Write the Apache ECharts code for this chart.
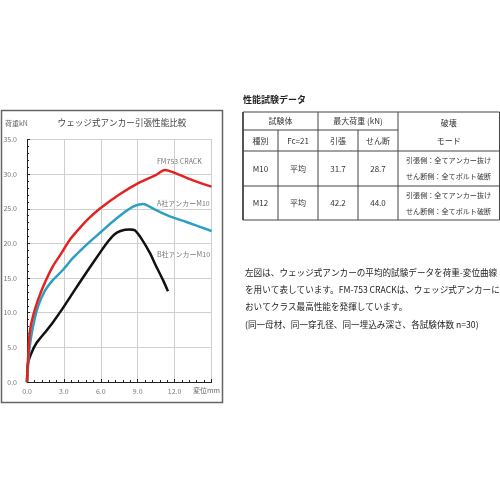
<!DOCTYPE html>
<html>
<head>
<meta charset="utf-8">
<script src="https://cdn.jsdelivr.net/npm/echarts@6/dist/echarts.min.js"></script>
<style>
  html, body { margin: 0; padding: 0; background: #fff; }
  #chart-container { width: 500px; height: 500px; }
</style>
</head>
<body>
<div id="chart-container"></div>
<script>
// load-displacement curves (x: mm, y: kN)
var fmX = [0, 0.08, 0.22, 0.49, 0.9, 1.44, 2.1, 2.8, 3.47, 4.28, 4.96, 5.91, 7.54, 9.16, 10.5, 11.2, 11.5, 12.4, 13.5, 15];
var fmY = [0, 3.2, 7.1, 9.5, 11.9, 14.3, 16.7, 18.6, 20.5, 22.2, 23.5, 25.0, 27.1, 28.8, 29.9, 30.6, 30.5, 29.9, 29.1, 28.2];
var aX = [0, 0.08, 0.22, 0.49, 0.9, 1.44, 2.1, 2.93, 3.74, 4.83, 5.91, 7.27, 8.62, 9.43, 10.5, 11.6, 12.96, 15];
var aY = [0, 2.2, 5.1, 8.0, 10.9, 13.1, 14.7, 16.2, 17.9, 19.8, 21.5, 23.6, 25.3, 25.7, 24.8, 23.9, 23.1, 21.8];
var bX = [0, 0.08, 0.36, 0.76, 1.44, 2.1, 2.93, 3.74, 4.83, 5.91, 6.6, 7.1, 7.6, 8.35, 8.76, 9.3, 10.0, 10.5, 11.06, 11.46];
var bY = [0, 2.7, 4.2, 5.6, 7.1, 8.6, 10.7, 12.9, 15.8, 18.6, 20.3, 21.3, 21.8, 22.0, 21.9, 20.7, 18.6, 16.7, 14.7, 13.1];
var seriesNames = ['FM753 CRACK', 'A社アンカーM10', 'B社アンカーM10'];

// table data
var tableTitle = '性能試験データ';
var sizes = ['M10', 'M12'];
var fcLabel = ['平均', '平均'];
var tension = ['31.7', '42.2'];
var shear = ['28.7', '44.0'];
var modeLines = ['引張側：全てアンカー抜け', 'せん断側：全てボルト破断'];

var noteLines = [
    '左図は、ウェッジ式アンカーの平均的試験データを荷重-変位曲線',
    'を用いて表しています。FM-753 CRACKは、ウェッジ式アンカーに',
    'おいてクラス最高性能を発揮しています。',
    '(同一母材、同一穿孔径、同一埋込み深さ、各試験体数 n=30)'
];

function pairs(xs, ys) {
    return xs.map(function (x, i) { return [x, ys[i]]; });
}

var FONT = '"Noto Sans CJK JP", sans-serif';
var dom = document.getElementById('chart-container');
var myChart = echarts.init(dom, null, { renderer: 'canvas' });

function txt(x, y, s, size, align, color, weight) {
    return {
        type: 'text', x: x, y: y, silent: true,
        style: {
            text: s, fontSize: size, fontFamily: FONT,
            fill: color || '#333', align: align || 'left',
            verticalAlign: 'middle', fontWeight: weight || 'normal'
        }
    };
}
function ln(x1, y1, x2, y2, w) {
    return {
        type: 'line', silent: true,
        shape: { x1: x1, y1: y1, x2: x2, y2: y2 },
        style: { stroke: '#444', lineWidth: w || 1 }
    };
}

var graphics = [];
// chart frame
graphics.push({
    type: 'rect', silent: true,
    shape: { x: 1.5, y: 110.5, width: 221, height: 292 },
    style: { fill: 'none', stroke: '#666', lineWidth: 1.5 }
});
graphics.push(txt(5, 123, '荷重kN', 7, 'left', '#666'));
graphics.push(txt(122, 123, 'ウェッジ式アンカー引張性能比較', 8.6, 'center', '#444'));
graphics.push(txt(193, 390.5, '変位mm', 7, 'left', '#666'));
graphics.push(txt(157, 161, seriesNames[0], 7, 'left', '#777'));
graphics.push(txt(157, 203, seriesNames[1], 7, 'left', '#777'));
graphics.push(txt(157, 254, seriesNames[2], 7, 'left', '#777'));

// table
var cx = [243, 278, 318, 358, 398, 499.5];
var ry = [112, 130, 151, 186, 220];
graphics.push(txt(243, 100, tableTitle, 9, 'left', '#222', 'bold'));
graphics.push(ln(cx[0], ry[0], cx[5], ry[0]));
graphics.push(ln(cx[0], ry[1], cx[4], ry[1]));
graphics.push(ln(cx[0], ry[2], cx[5], ry[2]));
graphics.push(ln(cx[0], ry[3], cx[5], ry[3]));
graphics.push(ln(cx[0], ry[4], cx[5], ry[4]));
graphics.push(ln(cx[0], ry[0], cx[0], ry[4], 1.8));
graphics.push(ln(cx[1], ry[1], cx[1], ry[4]));
graphics.push(ln(cx[2], ry[0], cx[2], ry[4]));
graphics.push(ln(cx[3], ry[1], cx[3], ry[4]));
graphics.push(ln(cx[4], ry[0], cx[4], ry[4]));
graphics.push(ln(cx[5], ry[0], cx[5], ry[4]));
var mid = function (a, b) { return (a + b) / 2; };
graphics.push(txt(mid(cx[0], cx[2]), 121, '試験体', 8, 'center'));
graphics.push(txt(mid(cx[2], cx[4]), 121, '最大荷重 (kN)', 8, 'center'));
graphics.push(txt(mid(cx[4], cx[5]), 123, '破壊', 8, 'center'));
graphics.push(txt(mid(cx[0], cx[1]), 140.5, '種別', 8, 'center'));
graphics.push(txt(mid(cx[1], cx[2]), 140.5, 'Fc=21', 8, 'center'));
graphics.push(txt(mid(cx[2], cx[3]), 140.5, '引張', 8, 'center'));
graphics.push(txt(mid(cx[3], cx[4]), 140.5, 'せん断', 8, 'center'));
graphics.push(txt(mid(cx[4], cx[5]), 140.5, 'モード', 8, 'center'));
for (var i = 0; i < sizes.length; i++) {
    var yc = mid(ry[i + 2], ry[i + 3]);
    graphics.push(txt(mid(cx[0], cx[1]), yc, sizes[i], 8, 'center'));
    graphics.push(txt(mid(cx[1], cx[2]), yc, fcLabel[i], 8, 'center'));
    graphics.push(txt(mid(cx[2], cx[3]), yc, tension[i], 8, 'center'));
    graphics.push(txt(mid(cx[3], cx[4]), yc, shear[i], 8, 'center'));
    graphics.push(txt(406, yc - 8, modeLines[0], 7.1, 'left'));
    graphics.push(txt(406, yc + 8, modeLines[1], 7.1, 'left'));
}

// note text
var noteY = [273, 290, 307, 325];
for (var j = 0; j < noteLines.length; j++) {
    graphics.push(txt(245, noteY[j], noteLines[j], 8.6, 'left', '#222'));
}

var option = {
    animation: false,
    grid: { left: 27, right: 288.5, top: 139.5, bottom: 118 },
    xAxis: {
        type: 'value', min: 0, max: 15, interval: 3,
        axisLine: { show: true, onZero: false, lineStyle: { color: '#222', width: 1 } },
        axisTick: { show: true, inside: true, length: 3, lineStyle: { color: '#222' } },
        minorTick: { show: true, splitNumber: 5, length: 2, lineStyle: { color: '#222' } },
        splitLine: { show: true, lineStyle: { color: '#cfcfcf', width: 1 } },
        axisLabel: {
            margin: 6, fontSize: 7, color: '#777', fontFamily: FONT,
            formatter: function (v) { return v >= 15 ? '' : v.toFixed(1); }
        }
    },
    yAxis: {
        type: 'value', min: 0, max: 35, interval: 5,
        axisLine: { show: true, onZero: false, lineStyle: { color: '#222', width: 1 } },
        axisTick: { show: true, inside: true, length: 3, lineStyle: { color: '#222' } },
        minorTick: { show: true, splitNumber: 5, length: 2, lineStyle: { color: '#222' } },
        splitLine: { show: true, lineStyle: { color: '#cfcfcf', width: 1 } },
        axisLabel: {
            margin: 10, fontSize: 7, color: '#777', fontFamily: FONT,
            formatter: function (v) { return v.toFixed(1); }
        }
    },
    series: [
        {
            name: seriesNames[2], type: 'line', showSymbol: false, smooth: 0.25,
            lineStyle: { color: '#111', width: 2.5 },
            data: pairs(bX, bY)
        },
        {
            name: seriesNames[1], type: 'line', showSymbol: false, smooth: 0.25,
            lineStyle: { color: '#2e9fc2', width: 2.5 },
            data: pairs(aX, aY)
        },
        {
            name: seriesNames[0], type: 'line', showSymbol: false, smooth: 0.25,
            lineStyle: { color: '#e3231f', width: 2.5 },
            data: pairs(fmX, fmY)
        }
    ],
    graphic: graphics
};

myChart.setOption(option);
window.addEventListener('resize', myChart.resize);
</script>
</body>
</html>
